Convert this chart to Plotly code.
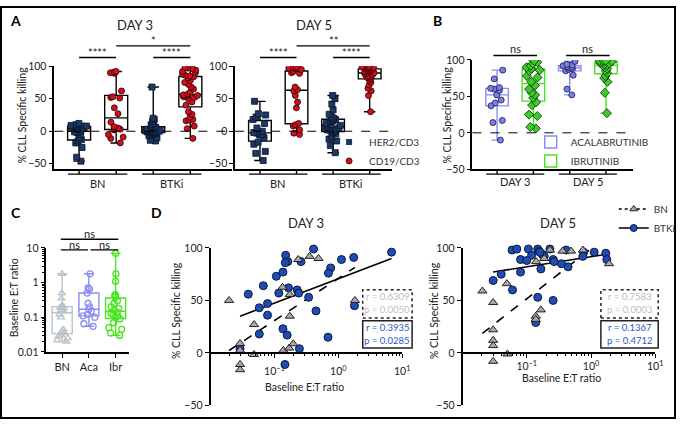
import numpy as np
import plotly.graph_objects as go

W, H = 684, 425


def px(x):
    return x / W


def py(y):
    return 1 - y / H


# ---------------- DATA ----------------
# Panel A: % CLL specific killing, HER2/CD3 vs CD19/CD3, BN vs BTKi
a_groups = ["BN", "BTKi"]
a3_her2_bn = [12, 10, 9, 8, 8, 7, 6, 5, 3, 1, -1, -2, -5, -10, -13, -15, -18, -25, -40, -46]
a3_cd19_bn = [92, 91, 90, 89, 62, 53, 52, 51, 36, 27, 14, 7, 5, 4, 3, 2, -5, -9, -11, -18]
a3_her2_btki = [68, 20, 18, 15, 12, 10, 8, 7, 6, 5, 4, 3, 2, 2, 1, 1, 0, 0, -1, -1, -2, -2,
                -3, -4, -5, -7, -10, -14, -15]
a3_cd19_btki = [98, 97, 96, 94, 92, 90, 88, 86, 85, 84, 82, 78, 75, 72, 68, 65, 60, 57, 56, 56,
                55, 54, 53, 52, 50, 45, 40, 30, 26, 22, 18, 17, 16, 8, 4, -11]
a5_her2_bn = [46, 27, 25, 22, 18, 12, 5, 0, -2, -3, -5, -6, -10, -17, -20, -31, -34, -45]
a5_cd19_bn = [99, 98, 97, 96, 95, 92, 90, 89, 68, 64, 62, 55, 45, 36, 12, 10, 8, 2, -3, -5]
a5_her2_btki = [55, 50, 42, 33, 26, 22, 20, 18, 16, 15, 12, 10, 9, 8, 6, 5, 4, 3, 2, 1, 0, -2,
                -4, -8, -12, -15, -22, -33]
a5_cd19_btki = [99, 99, 99, 98, 98, 97, 97, 96, 96, 95, 94, 93, 92, 91, 90, 89, 88, 87, 85, 84,
                83, 82, 80, 78, 75, 71, 66, 62, 55, 30]
a_sig3 = ["****", "*", "****"]
a_sig5 = ["****", "**", "****"]

# Panel B: acalabrutinib vs ibrutinib
b_days = ["DAY 3", "DAY 5"]
b_aca_d3 = [86, 74, 62, 61, 60, 58, 52, 45, 41, 37, 17, 14, -10]
b_ibr_d3 = [99, 97, 95, 92, 90, 88, 86, 85, 78, 76, 70, 65, 60, 55, 52, 48, 42, 38, 25, 23, 8, 6]
b_aca_d5 = [98, 94, 93, 92, 91, 90, 89, 88, 87, 85, 79, 60, 52]
b_ibr_d5 = [99, 99, 99, 98, 98, 97, 96, 95, 94, 93, 92, 90, 88, 85, 82, 78, 75, 70, 55, 27]

# Panel C: baseline E:T ratio
c_groups = ["BN", "Aca", "Ibr"]
c_bn = [1.8, 0.5, 0.35, 0.22, 0.21, 0.2, 0.19, 0.18, 0.16, 0.15, 0.12, 0.1, 0.045, 0.04, 0.035,
        0.03, 0.028, 0.025, 0.022, 0.02]
c_aca = [1.8, 0.7, 0.65, 0.5, 0.25, 0.2, 0.17, 0.15, 0.12, 0.11, 0.1, 0.065, 0.055]
c_ibr = [7, 1.8, 1.1, 0.45, 0.42, 0.38, 0.3, 0.25, 0.2, 0.18, 0.16, 0.14, 0.13, 0.12, 0.11, 0.1,
         0.09, 0.07, 0.05, 0.045, 0.035, 0.03]

# Panel D: killing vs baseline E:T ratio
d3_btki_x = [0.41, 0.15, 0.162, 0.148, 0.26, 1.12, 1.74, 6.8, 0.76, 0.70, 0.107, 0.136, 0.067,
             0.039, 0.166, 0.117, 0.227, 0.24, 0.343, 0.078, 0.058, 0.078, 0.447, 1.79, 0.058,
             0.136, 0.158, 0.69, 0.246, 0.146, 0.029]
d3_btki_y = [99, 93, 87, 86, 87, 89, 91, 96, 81, 76, 73, 77, 64, 56, 62, 57, 60, 57, 53, 47, 43,
             36, 40, 45, 18, 23, 17, 15, 4, -11, 4]
d3_bn_x = [0.0195, 0.029, 0.029, 0.029, 0.029, 0.048, 0.048, 0.138, 0.17, 0.197, 0.134, 0.174,
           0.174, 0.235, 0.355, 0.49, 1.82]
d3_bn_y = [50, 9, 2.5, -11, -16, 27, -1.5, 2.5, 4.6, 8.7, 62.6, 55.7, 35, 89, 92, 90, 50]
d5_btki_x = [0.059, 0.070, 0.106, 0.148, 0.155, 0.229, 0.41, 0.119, 0.174, 0.187, 0.77, 1.12,
             1.70, 0.745, 1.76, 0.080, 0.10, 0.257, 0.267, 0.347, 0.44, 0.080, 0.166, 0.040,
             0.030, 0.060, 0.148, 0.257, 0.138, 0.16]
d5_btki_y = [98, 99, 99, 99, 97, 99, 98, 93, 94, 92, 96, 96, 95, 92, 89, 89, 88, 89, 87, 85, 82,
             77, 80, 75, 69, 60, 53, 50, 29, 96]
d5_bn_x = [0.0204, 0.030, 0.030, 0.030, 0.030, 0.030, 0.049, 0.050, 0.14, 0.187, 0.23, 0.36,
           0.49, 0.75, 0.166, 0.138, 0.138, 1.91]
d5_bn_y = [59, 48, 22, 12, 7, -8, 66, -1, 87, 90, 98, 97, 97, 98, 41, 35, 32, 85]
d3_stats = [("r = 0.6309", "p = 0.0050"), ("r = 0.3935", "p = 0.0285")]
d5_stats = [("r = 0.7583", "p = 0.0003"), ("r = 0.1367", "p = 0.4712")]

# ---------------- STYLE ----------------
FONT = "Lato, 'Open Sans', sans-serif"
NAVY = "#1c3763"
RED = "#d0101e"
LAV = "#8a8cf2"
LAV_M = "#7c80e6"
GRN = "#46e61e"
GRN_M = "#3ccc2a"
GRAYC = "#b9c3cb"
TRI = "#a8a8a8"
BLUE = "#1d4cb5"
TXTBLUE = "#2b58c9"
TXTGRAY = "#b9c0c6"

fig = go.Figure()


def add_box(vals, pos, xa, ya, color, mcolor, msymbol, msize, mline, width=0.62,
            jitter=0.8, name=None, legend=None, mlw=0.8):
    v = np.array(vals, dtype=float)
    fig.add_trace(go.Box(
        x=[pos], q1=[np.percentile(v, 25)], median=[np.median(v)], q3=[np.percentile(v, 75)],
        lowerfence=[v.min()], upperfence=[v.max()], width=width, whiskerwidth=0.5,
        line=dict(color=color, width=1.4), fillcolor="rgba(255,255,255,0)", boxpoints=False,
        xaxis=xa, yaxis=ya, showlegend=name is not None, name=name or "box",
        legend=legend or "legend", hoverinfo="skip"))
    fig.add_trace(go.Box(
        y=v, x0=pos, width=width, boxpoints="all", jitter=jitter, pointpos=0,
        line=dict(width=0, color="rgba(0,0,0,0)"), fillcolor="rgba(0,0,0,0)",
        marker=dict(color=mcolor, symbol=msymbol, size=msize, line=dict(color=mline, width=mlw)),
        xaxis=xa, yaxis=ya, showlegend=False, name="pts", hoverinfo="y"))


# Panel A
for vals, pos, kind in [(a3_her2_bn, 0, "h"), (a3_cd19_bn, 1, "c"), (a3_her2_btki, 2, "h"),
                        (a3_cd19_btki, 3, "c")]:
    if kind == "h":
        add_box(vals, pos, "x", "y", "black", NAVY, "square", 6, "#0a1326")
    else:
        add_box(vals, pos, "x", "y", "black", RED, "circle", 6, "#2a0000")
for vals, pos, kind in [(a5_her2_bn, 0, "h"), (a5_cd19_bn, 1, "c"), (a5_her2_btki, 2, "h"),
                        (a5_cd19_btki, 3, "c")]:
    if kind == "h":
        add_box(vals, pos, "x2", "y2", "black", NAVY, "square", 6, "#0a1326")
    else:
        add_box(vals, pos, "x2", "y2", "black", RED, "circle", 6, "#2a0000")

fig.add_trace(go.Scatter(x=[None], y=[None], mode="markers", name="HER2/CD3",
                         marker=dict(color=NAVY, symbol="square", size=6),
                         xaxis="x2", yaxis="y2", legend="legend"))
fig.add_trace(go.Scatter(x=[None], y=[None], mode="markers", name="CD19/CD3",
                         marker=dict(color=RED, symbol="circle", size=6,
                                     line=dict(color="#2a0000", width=0.8)),
                         xaxis="x2", yaxis="y2", legend="legend"))

# Panel B
add_box(b_aca_d3, 0, "x3", "y3", LAV, LAV_M, "circle", 6, "#14164a",
        name="ACALABRUTINIB", legend="legend2")
add_box(b_ibr_d3, 1, "x3", "y3", GRN, GRN_M, "diamond", 7, "#0b2a06",
        name="IBRUTINIB", legend="legend2")
add_box(b_aca_d5, 2, "x3", "y3", LAV, LAV_M, "circle", 6, "#14164a")
add_box(b_ibr_d5, 3, "x3", "y3", GRN, GRN_M, "diamond", 7, "#0b2a06")

# Panel C
add_box(c_bn, 0, "x4", "y4", GRAYC, GRAYC, "triangle-up-open", 6, GRAYC, width=0.75, mlw=1.3)
add_box(c_aca, 1, "x4", "y4", LAV, LAV, "circle-open", 6, LAV, width=0.75, mlw=1.3)
add_box(c_ibr, 2, "x4", "y4", GRN, GRN, "circle-open", 6, GRN, width=0.75, mlw=1.3)


# Panel D
def regline(xs, ys, xa, ya, dash):
    lx = np.log10(np.array(xs, float))
    yv = np.array(ys, float)
    b, a = np.polyfit(lx, yv, 1)
    xe = np.array([lx.min(), lx.max()])
    fig.add_trace(go.Scatter(x=10 ** xe, y=a + b * xe, mode="lines",
                             line=dict(color="black", width=1.6, dash=dash),
                             xaxis=xa, yaxis=ya, showlegend=False, hoverinfo="skip"))


for xs_bn, ys_bn, xs_bt, ys_bt, xa, ya in [(d3_bn_x, d3_bn_y, d3_btki_x, d3_btki_y, "x5", "y5"),
                                          (d5_bn_x, d5_bn_y, d5_btki_x, d5_btki_y, "x6", "y6")]:
    regline(xs_bn, ys_bn, xa, ya, "dash")
    regline(xs_bt, ys_bt, xa, ya, "solid")
    fig.add_trace(go.Scatter(x=xs_bt, y=ys_bt, mode="markers", cliponaxis=False,
                             marker=dict(color=BLUE, size=8, line=dict(color="#0b1a3a", width=1)),
                             xaxis=xa, yaxis=ya, showlegend=False))
    fig.add_trace(go.Scatter(x=xs_bn, y=ys_bn, mode="markers", cliponaxis=False,
                             marker=dict(color=TRI, symbol="triangle-up", size=8,
                                         line=dict(color="#222222", width=1)),
                             xaxis=xa, yaxis=ya, showlegend=False))

fig.add_trace(go.Scatter(x=[None], y=[None], mode="lines+markers", name="BN",
                         line=dict(color="black", width=1.5, dash="dot"),
                         marker=dict(color=TRI, symbol="triangle-up", size=7,
                                     line=dict(color="#222", width=1)),
                         xaxis="x6", yaxis="y6", legend="legend3"))
fig.add_trace(go.Scatter(x=[None], y=[None], mode="lines+markers", name="BTKi",
                         line=dict(color="black", width=1.5),
                         marker=dict(color=BLUE, symbol="circle", size=7,
                                     line=dict(color="#0b1a3a", width=1)),
                         xaxis="x6", yaxis="y6", legend="legend3"))

# ---------------- AXES ----------------
TF = dict(family=FONT, size=10.5, color="#222")
base = dict(showline=True, linecolor="black", linewidth=1.6, showgrid=False, zeroline=False,
            tickfont=TF, ticks="outside", tickcolor="black", tickwidth=1.4, ticklen=4)
yA = dict(base, range=[-58.5, 100], tickvals=[-50, 0, 50, 100], domain=[py(168), py(62)])
xA_common = dict(base, ticks="", showticklabels=False)

minor_log = [m * 10 ** k for k in (-2, -1, 0) for m in range(2, 10)]

layout_axes = dict(
    xaxis=dict(xA_common, domain=[px(55), px(235)], range=[-0.667, 4.13], anchor="y"),
    yaxis=dict(yA, anchor="x"),
    xaxis2=dict(xA_common, domain=[px(238), px(397)], range=[-0.676, 3.62], anchor="y2"),
    yaxis2=dict(yA, anchor="x2"),
    xaxis3=dict(xA_common, domain=[px(478), px(640)], range=[-0.68, 3.73], anchor="y3"),
    yaxis3=dict(base, range=[-50, 100], tickvals=[-50, 0, 50, 100],
                domain=[py(168), py(55.5)], anchor="x3"),
    xaxis4=dict(base, domain=[px(47), px(131)], range=[-0.59, 2.52], anchor="y4",
                tickvals=[0, 1, 2], ticktext=c_groups, tickfont=dict(TF, size=11)),
    yaxis4=dict(base, type="log", range=[-2, 1], domain=[py(356), py(249)], anchor="x4",
                tickvals=[0.01, 0.1, 1, 10], ticktext=["0.01", "0.1", "1", "10"],
                minor=dict(tickvals=minor_log, ticks="outside", ticklen=2.5, tickwidth=1,
                           tickcolor="black")),
    xaxis5=dict(base, type="log", range=[-2, 1], domain=[px(213), px(407)], anchor="free",
                position=py(357), tickvals=[0.1, 1, 10], ticklabelstandoff=5,
                ticktext=["10<sup>−1</sup>", "10<sup>0</sup>", "10<sup>1</sup>"],
                minor=dict(tickvals=minor_log, ticks="outside", ticklen=2.5, tickwidth=1,
                           tickcolor="black")),
    yaxis5=dict(base, range=[-50, 100], tickvals=[-50, 0, 50, 100],
                domain=[py(411), py(249)], anchor="x5"),
    xaxis6=dict(base, type="log", range=[-2, 1], domain=[px(468), px(663)], anchor="free",
                position=py(357), tickvals=[0.1, 1, 10],
                ticktext=["10<sup>−1</sup>", "10<sup>0</sup>", "10<sup>1</sup>"],
                minor=dict(tickvals=minor_log, ticks="outside", ticklen=2.5, tickwidth=1,
                           tickcolor="black")),
    yaxis6=dict(base, range=[-50, 100], tickvals=[-50, 0, 50, 100],
                domain=[py(411), py(249)], anchor="x6"),
)

# ---------------- SHAPES & ANNOTATIONS ----------------
shapes = []
ann = []


def hline(xref, x0, x1, y, dash="solid", width=1.4):
    shapes.append(dict(type="line", xref=xref, yref="paper", x0=x0, x1=x1, y0=py(y), y1=py(y),
                       line=dict(color="black", width=width, dash=dash)))


def vline(xref, x, y0, y1, width=1.4):
    shapes.append(dict(type="line", xref=xref, yref="paper", x0=x, x1=x, y0=py(y0), y1=py(y1),
                       line=dict(color="black", width=width)))


def text(x, y, s, size=11, xref="paper", color="#222", bold=False, angle=0, xanchor="center",
         yanchor="middle"):
    ann.append(dict(x=x if xref != "paper" else px(x), y=py(y), xref=xref, yref="paper",
                    text=f"<b>{s}</b>" if bold else s, showarrow=False, textangle=angle,
                    font=dict(family=FONT, size=size, color=color), xanchor=xanchor,
                    yanchor=yanchor))


# zero dashed lines
for xr, yr in [("x domain", "y"), ("x2 domain", "y2"), ("x3 domain", "y3")]:
    shapes.append(dict(type="line", xref=xr, yref=yr, x0=0, x1=1, y0=0, y1=0,
                       line=dict(color="black", width=1, dash="dash")))

# group bars under x axes (A, B)
for xr, labels, ylab in [("x", a_groups, 183), ("x2", a_groups, 183), ("x3", b_days, 181)]:
    for gi, lab in enumerate(labels):
        p0, p1 = 2 * gi, 2 * gi + 1
        hline(xr, p0 - 0.3, p1 + 0.3, 173)
        vline(xr, p0, 173, 169.5)
        vline(xr, p1, 173, 169.5)
        text((p0 + p1) / 2, ylab, lab, size=11, xref=xr)

# significance brackets
for xr, sigs in [("x", a_sig3), ("x2", a_sig5)]:
    for (p0, p1, yb), s in zip([(0, 1, 53), (1, 3, 41), (2, 3, 53)], sigs):
        hline(xr, p0, p1, yb)
        text((p0 + p1) / 2, yb - 5, s, size=11, xref=xr)
for p0, p1 in [(0, 1), (2, 3)]:
    hline("x3", p0 - 0.1, p1 + 0.1, 51)
    text((p0 + p1) / 2, 44, "ns", size=11, xref="x3")
for p0, p1, yb in [(-0.05, 2.1, 240), (-0.05, 0.97, 251), (1.06, 2.1, 251)]:
    hline("x4", p0, p1, yb)
    text((p0 + p1) / 2, yb - 6, "ns", size=11, xref="x4")

# stat boxes in D
for (x0, x1), stats in [((367, 417), d3_stats), ((608, 666), d5_stats)]:
    shapes.append(dict(type="rect", xref="paper", yref="paper", x0=px(x0), x1=px(x1),
                       y0=py(321), y1=py(292), line=dict(color="#222", width=1.5, dash="dot")))
    shapes.append(dict(type="rect", xref="paper", yref="paper", x0=px(x0), x1=px(x1),
                       y0=py(352), y1=py(324), line=dict(color="#222", width=1.5)))
    for (r, p), (yr, yp), col in zip(stats, [(299, 312), (331, 344)], [TXTGRAY, TXTBLUE]):
        text((x0 + x1) / 2, yr, r, size=9.5, color=col)
        text((x0 + x1) / 2, yp, p, size=9.5, color=col)

# titles / labels
text(16, 15, "A", size=14, bold=True, color="black")
text(443, 15, "B", size=14, bold=True, color="black")
text(16, 212, "C", size=14, bold=True, color="black")
text(158, 213, "D", size=14, bold=True, color="black")
text(137, 20, "DAY 3", size=13)
text(318, 20, "DAY 5", size=13)
text(310, 223, "DAY 3", size=13)
text(565, 223, "DAY 5", size=13)
text(22, 112, "% CLL Specific killing", size=10.5, angle=-90)
text(452, 112, "% CLL Specific killing", size=10.5, angle=-90)
text(14, 300, "Baseline E:T ratio", size=10.5, angle=-90)
text(178, 313, "% CLL Specific killing", size=10.5, angle=-90)
text(439, 313, "% CLL Specific killing", size=10.5, angle=-90)
text(308, 392, "Baseline E:T ratio", size=10.5)
text(568, 383, "Baseline E:T ratio", size=10.5)

# outer frame
shapes.append(dict(type="rect", xref="paper", yref="paper", x0=px(1), x1=px(683), y0=py(424),
                   y1=py(1), line=dict(color="black", width=2)))

LEG = dict(bgcolor="rgba(0,0,0,0)", borderwidth=0, font=dict(family=FONT, size=10, color="#333"),
           xanchor="left", yanchor="top", itemwidth=30, tracegroupgap=0)

fig.update_layout(
    width=W, height=H, margin=dict(l=0, r=0, t=0, b=0), paper_bgcolor="white",
    plot_bgcolor="rgba(0,0,0,0)", boxmode="overlay", font=dict(family=FONT, color="#222"),
    shapes=shapes, annotations=ann,
    legend=dict(LEG, x=px(333), y=py(125)),
    legend2=dict(LEG, x=px(537), y=py(125)),
    legend3=dict(LEG, x=px(621), y=py(194)),
    **layout_axes,
)

fig.write_html("out.html", config={"displayModeBar": False},
               post_script="document.body.style.margin='0';")
